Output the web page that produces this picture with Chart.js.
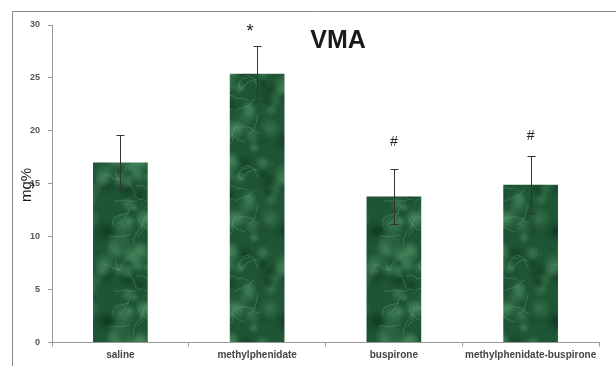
<!DOCTYPE html>
<html><head><meta charset="utf-8">
<script src="https://cdn.jsdelivr.net/npm/chart.js@4/dist/chart.umd.min.js"></script>
<style>html,body{margin:0;padding:0;background:#fff}#wrap{width:616px;height:366px;position:relative}</style>
</head><body><div id="wrap"><canvas id="c" width="616" height="366"></canvas></div>
<script>
const categories = ["saline", "methylphenidate", "buspirone", "methylphenidate-buspirone"];
const values = [17.0, 25.4, 13.8, 14.9];
const errors = [2.6, 2.6, 2.6, 2.7];
const markers = ["", "*", "#", "#"];
const markerAt = [null, 29.6, 18.9, 19.5];
const yTicks = [0, 5, 10, 15, 20, 25, 30];

function makeTexture() {
  const s = 90, cv = document.createElement('canvas');
  cv.width = s; cv.height = s;
  const g = cv.getContext('2d');
  const h = n => { const v = Math.sin(n * 12.9898) * 43758.5453; return v - Math.floor(v); };
  g.fillStyle = '#1e5534'; g.fillRect(0, 0, s, s);
  // soft cloudy blobs
  for (let k = 0; k < 40; k++) {
    const x = h(k + 1) * s, y = h(k + 101) * s, r = 4 + h(k + 201) * 10;
    const light = h(k + 301) > 0.5;
    for (const dx of [-s, 0, s]) for (const dy of [-s, 0, s]) {
      const gr = g.createRadialGradient(x + dx, y + dy, 0, x + dx, y + dy, r);
      gr.addColorStop(0, light ? 'rgba(90,160,115,0.45)' : 'rgba(12,48,26,0.5)');
      gr.addColorStop(1, light ? 'rgba(90,160,115,0)' : 'rgba(12,48,26,0)');
      g.fillStyle = gr;
      g.fillRect(x + dx - r, y + dy - r, 2 * r, 2 * r);
    }
  }
  // thin light veins
  for (let k = 0; k < 18; k++) {
    let x = h(k + 401) * s, y = h(k + 501) * s, a = h(k + 601) * 6.28;
    g.beginPath(); g.moveTo(x, y);
    for (let t = 0; t < 8; t++) {
      a += (h(k * 10 + t + 701) - 0.5) * 1.6;
      x += 3 * Math.cos(a); y += 3 * Math.sin(a);
      g.lineTo(x, y);
    }
    g.strokeStyle = 'rgba(130,195,150,0.35)';
    g.lineWidth = 0.8;
    g.stroke();
  }
  return g.createPattern(cv, 'repeat');
}

const extras = {
  id: 'extras',
  afterDatasetsDraw(chart) {
    const ctx = chart.ctx, x = chart.scales.x, y = chart.scales.y;
    ctx.save();
    ctx.strokeStyle = '#8a8a8a'; ctx.lineWidth = 1;
    ctx.beginPath(); ctx.moveTo(12.5, 366); ctx.lineTo(12.5, 11.5); ctx.lineTo(616, 11.5); ctx.stroke();
    ctx.strokeStyle = '#333'; ctx.lineWidth = 1;
    values.forEach((v, i) => {
      const cx = Math.round(x.getPixelForValue(i)) + 0.5;
      const yt = y.getPixelForValue(v + errors[i]), yb = y.getPixelForValue(v - errors[i]);
      ctx.beginPath();
      ctx.moveTo(cx, yt); ctx.lineTo(cx, yb);
      ctx.moveTo(cx - 4, Math.round(yt) + 0.5); ctx.lineTo(cx + 4, Math.round(yt) + 0.5);
      ctx.moveTo(cx - 4, Math.round(yb) + 0.5); ctx.lineTo(cx + 4, Math.round(yb) + 0.5);
      ctx.stroke();
    });
    ctx.fillStyle = '#222'; ctx.textAlign = 'center'; ctx.textBaseline = 'middle';
    markers.forEach((m, i) => {
      if (!m) return;
      ctx.font = m === '*' ? '18px "Liberation Sans"' : '14px "Liberation Sans"';
      const off = m === '*' ? -7 : 0;
      ctx.fillText(m, x.getPixelForValue(i) + off, y.getPixelForValue(markerAt[i]) + (m === '*' ? 3 : 0));
    });
    ctx.font = 'bold 25px "Liberation Sans"';
    ctx.fillStyle = '#1a1a1a';
    ctx.fillText('VMA', 338, 41);
    ctx.translate(27, 185); ctx.rotate(-Math.PI / 2);
    ctx.font = '15px "Liberation Sans"';
    ctx.fillText('mg%', 0, 0);
    ctx.restore();
  }
};

new Chart(document.getElementById('c'), {
  type: 'bar',
  data: { labels: categories, datasets: [{ data: values, backgroundColor: makeTexture(), borderWidth: 0, barPercentage: 0.4, categoryPercentage: 1.0 }] },
  options: {
    responsive: false, animation: false, devicePixelRatio: 1,
    layout: { padding: { top: 25, right: 17, left: 0, bottom: 0 } },
    plugins: { legend: { display: false }, tooltip: { enabled: false } },
    scales: {
      x: {
        offset: true,
        grid: { drawOnChartArea: false, tickLength: 4, color: '#999', offset: true },
        border: { color: '#999' },
        ticks: { color: '#444', font: { family: 'Liberation Sans', size: 10, weight: 'bold' }, padding: 3, maxRotation: 0, autoSkip: false },
        afterFit(s) { s.height = 23.5; }
      },
      y: {
        min: 0, max: 30,
        afterBuildTicks(s) { s.ticks = yTicks.map(v => ({ value: v })); },
        grid: { drawOnChartArea: false, tickLength: 4, color: '#999' },
        border: { color: '#999' },
        ticks: { color: '#555', font: { family: 'Liberation Sans', size: 9, weight: 'bold' }, padding: 8 },
        afterFit(s) { s.width = 52; }
      }
    }
  },
  plugins: [extras]
});
</script></body></html>
